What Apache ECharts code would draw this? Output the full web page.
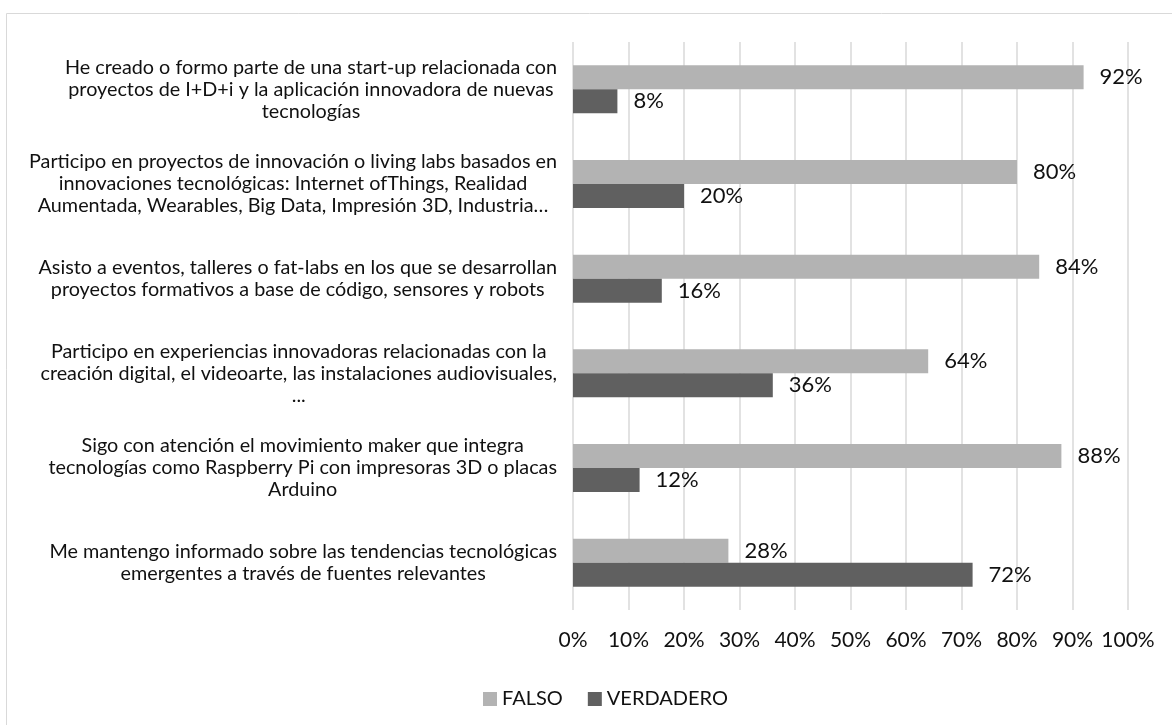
<!DOCTYPE html>
<html>
<head>
<meta charset="utf-8">
<script src="https://cdn.jsdelivr.net/npm/echarts@6/dist/echarts.min.js"></script>
<style>
  html, body { margin: 0; padding: 0; background: #fff; }
  #chart { width: 1172px; height: 725px; }
</style>
</head>
<body>
<div id="chart"></div>
<script>
// datos
var categorias = [
    'He creado o formo parte de una start-up relacionada con\nproyectos de I+D+i y la aplicación innovadora de nuevas\ntecnologías',
    'Participo en proyectos de innovación o living labs basados en\ninnovaciones tecnológicas: Internet ofThings, Realidad\nAumentada, Wearables, Big Data, Impresión 3D, Industria…',
    'Asisto a eventos, talleres o fat-labs en los que se desarrollan\nproyectos formativos a base de código, sensores y robots',
    'Participo en experiencias innovadoras relacionadas con la\ncreación digital, el videoarte, las instalaciones audiovisuales,\n...',
    'Sigo con atención el movimiento maker que integra\ntecnologías como Raspberry Pi con impresoras 3D o placas\nArduino',
    'Me mantengo informado sobre las tendencias tecnológicas\nemergentes a través de fuentes relevantes'
];
var falso = [92, 80, 84, 64, 88, 28];
var verdadero = [8, 20, 16, 36, 12, 72];
var series_nombres = ['FALSO', 'VERDADERO'];

var fuente = 'Lato';
var chart = echarts.init(document.getElementById('chart'));

// etiqueta de valor comun a las dos series
function etiqueta() {
    return {
        show: true, position: 'right', distance: 16,
        formatter: '{c}%', fontFamily: fuente, fontSize: 22, color: '#111'
    };
}

var opciones = {
    animation: false,
    textStyle: { fontFamily: fuente },
    graphic: [{
        type: 'rect',
        shape: { x: 6.5, y: 13.5, width: 1300, height: 800 },
        style: { fill: 'none', stroke: '#d9d9d9', lineWidth: 1 },
        silent: true
    }],
    grid: { left: 573, right: 44, top: 42, bottom: 115 },
    legend: {
        data: series_nombres,
        left: 478,
        top: 684,
        itemWidth: 14,
        itemHeight: 14,
        itemGap: 25,
        icon: 'rect',
        textStyle: { fontFamily: fuente, fontSize: 20, color: '#111' }
    },
    xAxis: {
        type: 'value',
        min: 0,
        max: 100,
        interval: 10,
        axisLine: { show: false },
        axisTick: { show: false },
        splitLine: { lineStyle: { color: '#d9d9d9', width: 1.5 } },
        axisLabel: {
            formatter: '{value}%',
            fontFamily: fuente,
            fontSize: 21,
            color: '#111',
            margin: 20
        }
    },
    yAxis: {
        type: 'category',
        inverse: true,
        data: categorias,
        axisLine: { show: false },
        axisTick: { show: false },
        axisLabel: {
            margin: 16,
            formatter: function (v) {
                return v.split('\n').map(function (l) { return '{c|' + l + '}'; }).join('\n');
            },
            rich: {
                c: { align: 'center', fontFamily: fuente, fontSize: 19.8, lineHeight: 22, color: '#111' }
            }
        }
    },
    series: [{
        name: 'FALSO',
        type: 'bar',
        data: falso,
        barWidth: 24,
        barGap: '0%',
        itemStyle: { color: '#b3b3b3' },
        label: etiqueta()
    }, {
        name: 'VERDADERO',
        type: 'bar',
        data: verdadero,
        barWidth: 24,
        barGap: '0%',
        itemStyle: { color: '#606060' },
        label: etiqueta()
    }]
};
chart.setOption(opciones);
</script>
</body>
</html>
